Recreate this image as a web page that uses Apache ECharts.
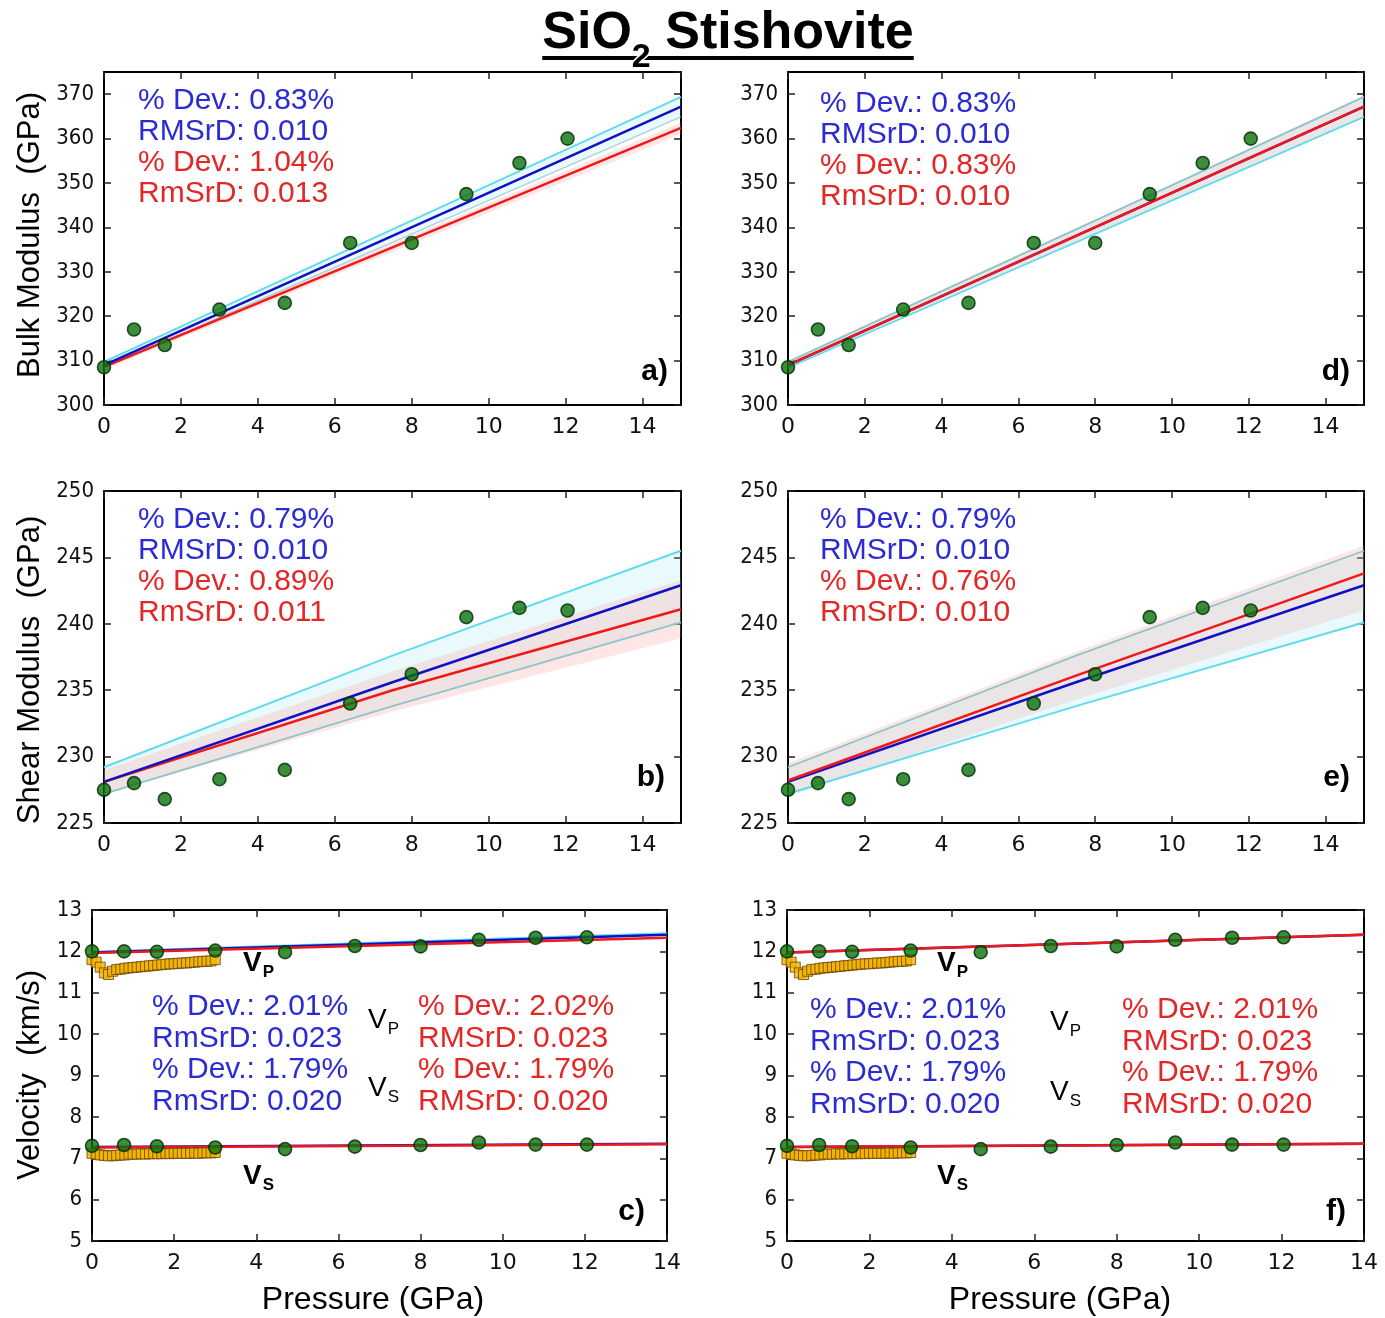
<!DOCTYPE html>
<html>
<head>
<meta charset="utf-8">
<script src="https://cdn.jsdelivr.net/npm/echarts@6/dist/echarts.min.js"></script>
<style>
html, body { margin: 0; padding: 0; background: #fff; }
#chart { width: 1385px; height: 1318px; }
</style>
</head>
<body>
<div id="chart"></div>
<script>
// ---- Measured data (green circles) ----
const pressure      = [0, 0.78, 1.58, 3.0, 4.7, 6.4, 8.0, 9.42, 10.8, 12.05];
const bulkModulus   = [308.5, 317, 313.5, 321.5, 323, 336.5, 336.5, 347.5, 354.5, 360];
const shearModulus  = [227.5, 228, 226.8, 228.3, 229, 234, 236.2, 240.5, 241.2, 241];
const vpMeasured    = [12.0, 12.0, 11.99, 12.02, 11.98, 12.13, 12.12, 12.28, 12.33, 12.34];
const vsMeasured    = [7.3, 7.32, 7.29, 7.26, 7.22, 7.28, 7.32, 7.38, 7.33, 7.33];

// ---- Ultrasonic velocities (orange squares) ----
const ultrasonicP   = [0, 0.1, 0.2, 0.3, 0.4, 0.5, 0.6, 0.7, 0.8, 0.9, 1.0, 1.1, 1.2, 1.3, 1.4, 1.5,
                       1.6, 1.7, 1.8, 1.9, 2.0, 2.1, 2.2, 2.3, 2.4, 2.5, 2.6, 2.7, 2.8, 2.9, 3.0];
const vpUltrasonic  = [11.8, 11.74, 11.62, 11.48, 11.44, 11.52, 11.56, 11.57, 11.59, 11.6, 11.61, 11.62, 11.63, 11.64, 11.65, 11.66,
                       11.67, 11.68, 11.69, 11.7, 11.7, 11.71, 11.72, 11.72, 11.73, 11.74, 11.75, 11.76, 11.76, 11.77, 11.8];
const vsUltrasonic  = [7.12, 7.1, 7.08, 7.07, 7.06, 7.06, 7.07, 7.08, 7.08, 7.1, 7.1, 7.1, 7.11, 7.1, 7.11, 7.11,
                       7.11, 7.11, 7.12, 7.11, 7.12, 7.12, 7.12, 7.12, 7.12, 7.13, 7.12, 7.13, 7.13, 7.13, 7.14];

// ---- Model curves ----
const bulkP         = [0, 15];
const bulkBlue      = [309.0, 367.2];
const bulkBlueUp    = [309.7, 369.4];
const bulkBlueLo    = [308.4, 364.9];
const bulkRedA      = [308.6, 362.4];
const bulkRedUpA    = [309.2, 363.6];
const bulkRedLoA    = [308.0, 361.0];
const bulkRedD      = [309.0, 367.2];
const bulkRedUpD    = [309.9, 369.7];
const bulkRedLoD    = [308.2, 365.0];

const shearP        = [0, 7.5, 15];
const shearBlue     = [228.1, 235.6, 242.9];
const shearBlueUp   = [229.2, 237.6, 245.5];
const shearBlueLo   = [227.2, 233.8, 240.1];
const shearRedB     = [228.1, 235.0, 241.1];
const shearRedUpB   = [229.0, 236.4, 243.3];
const shearRedLoB   = [227.2, 233.4, 238.9];
const shearRedE     = [228.2, 236.1, 243.8];
const shearRedUpE   = [229.5, 237.9, 245.9];
const shearRedLoE   = [227.0, 234.3, 241.0];

const velP          = [0, 14];
const vpBlue        = [11.97, 12.40];
const vpBlueUp      = [11.99, 12.44];
const vpRedC        = [11.96, 12.33];
const vpRedF        = [11.97, 12.40];
const vsBlue        = [7.27, 7.35];
const vsRedC        = [7.26, 7.34];
const vsRedF        = [7.27, 7.35];

// ---- Annotation text ----
const statsA = { blue: ['% Dev.: 0.83%', 'RMSrD: 0.010'], red: ['% Dev.: 1.04%', 'RmSrD: 0.013'] };
const statsD = { blue: ['% Dev.: 0.83%', 'RMSrD: 0.010'], red: ['% Dev.: 0.83%', 'RmSrD: 0.010'] };
const statsB = { blue: ['% Dev.: 0.79%', 'RMSrD: 0.010'], red: ['% Dev.: 0.89%', 'RmSrD: 0.011'] };
const statsE = { blue: ['% Dev.: 0.79%', 'RMSrD: 0.010'], red: ['% Dev.: 0.76%', 'RmSrD: 0.010'] };
const statsC = { blue: ['% Dev.: 2.01%', 'RmSrD: 0.023', '% Dev.: 1.79%', 'RmSrD: 0.020'],
                 red:  ['% Dev.: 2.02%', 'RMSrD: 0.023', '% Dev.: 1.79%', 'RMSrD: 0.020'] };
const statsF = { blue: ['% Dev.: 2.01%', 'RmSrD: 0.023', '% Dev.: 1.79%', 'RmSrD: 0.020'],
                 red:  ['% Dev.: 2.01%', 'RMSrD: 0.023', '% Dev.: 1.79%', 'RMSrD: 0.020'] };

// ---- Styling ----
const BLUE = '#1010c4';
const RED = '#f01818';
const CYAN = '#5fdcec';
const GRAYCYAN = '#8fc4c8';
const TXT_BLUE = '#2b2bd6';
const TXT_RED = '#e42626';
const SANS = '"Liberation Sans", Arial, sans-serif';
const TICK_FONT = '"DejaVu Sans", sans-serif';
const TICK_FONT_Y = '"DejaVu Sans Condensed", "Liberation Sans Narrow", ' + SANS;

const chart = echarts.init(document.getElementById('chart'), null, { renderer: 'canvas' });

// panel layout: a, d, b, e, c, f
const panels = [
  { grid: { left: 104, top: 72, width: 577, height: 333 }, x: [0, 15, 2], y: [300, 375, 10] },
  { grid: { left: 788, top: 72, width: 576, height: 333 }, x: [0, 15, 2], y: [300, 375, 10] },
  { grid: { left: 104, top: 491, width: 577, height: 332 }, x: [0, 15, 2], y: [225, 250, 5] },
  { grid: { left: 788, top: 491, width: 576, height: 332 }, x: [0, 15, 2], y: [225, 250, 5] },
  { grid: { left: 92, top: 910, width: 575, height: 331 }, x: [0, 14, 2], y: [5, 13, 1] },
  { grid: { left: 787, top: 910, width: 577, height: 331 }, x: [0, 14, 2], y: [5, 13, 1] }
];

const grid = [], xAxis = [], yAxis = [], series = [];

panels.forEach((pn, i) => {
  grid.push(Object.assign({ containLabel: false }, pn.grid));
  const line = { show: true, onZero: false, lineStyle: { color: '#000', width: 2 } };
  const tick = { show: true, inside: true, length: 7, lineStyle: { color: '#222', width: 1.5 } };
  xAxis.push({
    type: 'value', gridIndex: i, position: 'bottom', min: pn.x[0], max: pn.x[1], interval: pn.x[2],
    axisLine: line, axisTick: tick, splitLine: { show: false },
    axisLabel: { fontFamily: TICK_FONT, fontSize: 22, color: '#111', margin: 11,
                 showMaxLabel: pn.x[1] % pn.x[2] === 0 }
  });
  xAxis.push({
    type: 'value', gridIndex: i, position: 'top', min: pn.x[0], max: pn.x[1], interval: pn.x[2],
    axisLine: line, axisTick: tick, splitLine: { show: false }, axisLabel: { show: false }
  });
  yAxis.push({
    type: 'value', gridIndex: i, position: 'left', min: pn.y[0], max: pn.y[1], interval: pn.y[2],
    axisLine: line, axisTick: tick, splitLine: { show: false },
    axisLabel: { fontFamily: TICK_FONT_Y, fontSize: 22, color: '#111', margin: 10,
                 showMaxLabel: (pn.y[1] - pn.y[0]) % pn.y[2] === 0 }
  });
  yAxis.push({
    type: 'value', gridIndex: i, position: 'right', min: pn.y[0], max: pn.y[1], interval: pn.y[2],
    axisLine: line, axisTick: tick, splitLine: { show: false }, axisLabel: { show: false }
  });
});

function axes(i) { return { xAxisIndex: 2 * i, yAxisIndex: 2 * i }; }
function pairs(xs, ys) { return xs.map((x, k) => [x, ys[k]]); }

function band(i, xs, lo, hi, fill, z) {
  series.push(Object.assign({
    type: 'custom', silent: true, z: z || 1, clip: true,
    data: xs.map((x, k) => [x, lo[k], hi[k]]),
    renderItem: (params, api) => {
      if (params.dataIndex !== 0) return null;
      const pts = [];
      xs.forEach((x, k) => pts.push(api.coord([x, hi[k]])));
      for (let k = xs.length - 1; k >= 0; k--) pts.push(api.coord([xs[k], lo[k]]));
      return { type: 'polygon', shape: { points: pts }, style: { fill: fill, stroke: null } };
    }
  }, axes(i)));
}

function curve(i, xs, ys, color, width, z, opacity) {
  series.push(Object.assign({
    type: 'line', data: pairs(xs, ys), showSymbol: false, symbol: 'none', silent: true,
    lineStyle: { color: color, width: width, opacity: opacity == null ? 1 : opacity }, z: z
  }, axes(i)));
}

function dots(i, xs, ys) {
  series.push(Object.assign({
    type: 'scatter', data: pairs(xs, ys), symbol: 'circle', symbolSize: 13, silent: true,
    itemStyle: { color: '#0a720a', borderColor: '#022a02', borderWidth: 1.6 }, z: 6
  }, axes(i)));
}

function squares(i, xs, ys) {
  series.push(Object.assign({
    type: 'scatter', data: pairs(xs, ys), symbol: 'rect', symbolSize: 10, silent: true,
    itemStyle: { color: '#f4b400', borderColor: '#6a4500', borderWidth: 1 }, z: 5
  }, axes(i)));
}

const PINK = 'rgba(255,140,140,0.22)';
const ICE = 'rgba(140,225,240,0.18)';

// a) bulk modulus, model 1
band(0, bulkP, bulkBlueLo, bulkBlueUp, ICE);
band(0, bulkP, bulkRedLoA, bulkRedUpA, PINK);
curve(0, bulkP, bulkBlueUp, CYAN, 2, 2);
curve(0, bulkP, bulkBlueLo, GRAYCYAN, 1.5, 2, 0.7);
curve(0, bulkP, bulkRedA, RED, 2.5, 3);
curve(0, bulkP, bulkBlue, BLUE, 2.5, 4);
dots(0, pressure, bulkModulus);

// d) bulk modulus, model 2
band(1, bulkP, bulkRedLoD, bulkRedUpD, PINK);
band(1, bulkP, bulkBlueLo, bulkBlueUp, ICE);
curve(1, bulkP, bulkBlueUp, GRAYCYAN, 1.8, 2);
curve(1, bulkP, bulkBlueLo, CYAN, 1.8, 2);
curve(1, bulkP, bulkBlue, BLUE, 2.5, 3);
curve(1, bulkP, bulkRedD, RED, 2.5, 4);
dots(1, pressure, bulkModulus);

// b) shear modulus, model 1
band(2, shearP, shearBlueLo, shearBlueUp, ICE);
band(2, shearP, shearRedLoB, shearRedUpB, PINK);
curve(2, shearP, shearBlueUp, CYAN, 2, 2);
curve(2, shearP, shearBlueLo, GRAYCYAN, 1.8, 2);
curve(2, shearP, shearRedB, RED, 2.5, 3);
curve(2, shearP, shearBlue, BLUE, 2.5, 4);
dots(2, pressure, shearModulus);

// e) shear modulus, model 2
band(3, shearP, shearRedLoE, shearRedUpE, PINK);
band(3, shearP, shearBlueLo, shearBlueUp, ICE);
curve(3, shearP, shearBlueUp, GRAYCYAN, 1.8, 2);
curve(3, shearP, shearBlueLo, CYAN, 2, 2);
curve(3, shearP, shearBlue, BLUE, 2.5, 3);
curve(3, shearP, shearRedE, RED, 2.5, 4);
dots(3, pressure, shearModulus);

// c) velocities, model 1
curve(4, velP, vpBlueUp, CYAN, 2, 2);
curve(4, velP, vpBlue, BLUE, 2.5, 3);
curve(4, velP, vpRedC, RED, 2.5, 4);
curve(4, velP, vsBlue, BLUE, 2.5, 3);
curve(4, velP, vsRedC, RED, 2.5, 4);
squares(4, ultrasonicP, vpUltrasonic);
squares(4, ultrasonicP, vsUltrasonic);
dots(4, pressure, vpMeasured);
dots(4, pressure, vsMeasured);

// f) velocities, model 2
curve(5, velP, vpBlue, BLUE, 2.5, 3);
curve(5, velP, vpRedF, RED, 2.5, 4);
curve(5, velP, vsBlue, BLUE, 2.5, 3);
curve(5, velP, vsRedF, RED, 2.5, 4);
squares(5, ultrasonicP, vpUltrasonic);
squares(5, ultrasonicP, vsUltrasonic);
dots(5, pressure, vpMeasured);
dots(5, pressure, vsMeasured);

// ---- Text overlays ----
const graphic = [];
const measureCtx = document.createElement('canvas').getContext('2d');
function textWidth(str, font) { measureCtx.font = font; return measureCtx.measureText(str).width; }

function txt(x, y, str, o) {
  o = o || {};
  graphic.push({
    type: 'text', x: x, y: y, rotation: o.rotation || 0, z: 100, silent: true,
    style: {
      text: str, fill: o.color || '#000',
      font: (o.weight || 'normal') + ' ' + (o.size || 28) + 'px ' + (o.family || SANS),
      textAlign: o.align || 'left', textVerticalAlign: 'middle',
      stroke: o.stroke || null, lineWidth: o.strokeWidth || 0
    }
  });
}

function statBlock(x, y0, lines, color, step) {
  lines.forEach((s, k) => txt(x, y0 + k * step, s, { color: color, size: 30 }));
}

function subLabel(x, y, main, sub, size, weight) {
  const f = (weight || 'normal') + ' ' + size + 'px ' + SANS;
  txt(x, y, main, { size: size, weight: weight });
  txt(x + textWidth(main, f) + 1, y + size * 0.32, sub, { size: Math.round(size * 0.62), weight: weight });
}

// Title with subscript and underline
(function () {
  const big = 'bold 52px ' + SANS, small = 'bold 34px ' + SANS;
  const w1 = textWidth('SiO', big), w2 = textWidth('2', small), w3 = textWidth(' Stishovite', big);
  const total = w1 + w2 + w3;
  const x0 = 728 - total / 2;
  graphic.push({ type: 'rect', z: 99, silent: true,
                 shape: { x: x0, y: 56, width: total, height: 4 }, style: { fill: '#000' } });
  txt(x0, 34, 'SiO', { size: 52, weight: 'bold' });
  txt(x0 + w1, 58, '2', { size: 34, weight: 'bold', stroke: '#fff', strokeWidth: 3 });
  txt(x0 + w1 + w2, 34, ' Stishovite', { size: 52, weight: 'bold' });
})();

// Axis titles
txt(30, 235, 'Bulk Modulus  (GPa)', { size: 31, align: 'center', rotation: Math.PI / 2 });
txt(30, 670, 'Shear Modulus  (GPa)', { size: 31, align: 'center', rotation: Math.PI / 2 });
txt(30, 1075, 'Velocity  (km/s)', { size: 31, align: 'center', rotation: Math.PI / 2 });
txt(373, 1300, 'Pressure (GPa)', { size: 32, align: 'center' });
txt(1060, 1300, 'Pressure (GPa)', { size: 32, align: 'center' });

// Panel letters
txt(668, 372, 'a)', { size: 30, weight: 'bold', align: 'right' });
txt(1350, 372, 'd)', { size: 30, weight: 'bold', align: 'right' });
txt(665, 778, 'b)', { size: 30, weight: 'bold', align: 'right' });
txt(1350, 778, 'e)', { size: 30, weight: 'bold', align: 'right' });
txt(645, 1212, 'c)', { size: 30, weight: 'bold', align: 'right' });
txt(1346, 1212, 'f)', { size: 30, weight: 'bold', align: 'right' });

// Statistics
statBlock(138, 101, statsA.blue, TXT_BLUE, 31);
statBlock(138, 163, statsA.red, TXT_RED, 31);
statBlock(820, 104, statsD.blue, TXT_BLUE, 31);
statBlock(820, 166, statsD.red, TXT_RED, 31);
statBlock(138, 520, statsB.blue, TXT_BLUE, 31);
statBlock(138, 582, statsB.red, TXT_RED, 31);
statBlock(820, 520, statsE.blue, TXT_BLUE, 31);
statBlock(820, 582, statsE.red, TXT_RED, 31);
statBlock(152, 1007, statsC.blue, TXT_BLUE, 31.5);
statBlock(418, 1007, statsC.red, TXT_RED, 31.5);
statBlock(810, 1010, statsF.blue, TXT_BLUE, 31.5);
statBlock(1122, 1010, statsF.red, TXT_RED, 31.5);

// Wave labels
subLabel(368, 1020, 'V', 'P', 28, 'normal');
subLabel(368, 1088, 'V', 'S', 28, 'normal');
subLabel(1050, 1022, 'V', 'P', 28, 'normal');
subLabel(1050, 1092, 'V', 'S', 28, 'normal');
subLabel(243, 963, 'V', 'P', 28, 'bold');
subLabel(243, 1176, 'V', 'S', 28, 'bold');
subLabel(937, 963, 'V', 'P', 28, 'bold');
subLabel(937, 1176, 'V', 'S', 28, 'bold');

chart.setOption({
  animation: false,
  backgroundColor: '#fff',
  grid: grid, xAxis: xAxis, yAxis: yAxis, series: series, graphic: graphic
});
</script>
</body>
</html>
